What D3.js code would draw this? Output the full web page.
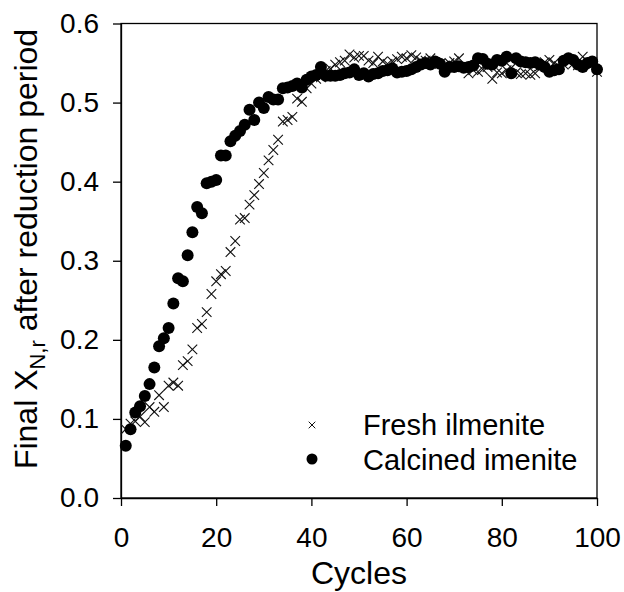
<!DOCTYPE html>
<html><head><meta charset="utf-8">
<script src="https://cdn.jsdelivr.net/npm/d3@7"></script>
<style>
body{margin:0;background:#fff;}
text{font-family:"Liberation Sans",Arial,Helvetica,sans-serif;fill:#000;}
</style></head>
<body><svg id="c" width="624" height="592"></svg>
<script>
const cycles = d3.range(1, 101);
const freshIlmenite = [0.087,0.094,0.097,0.103,0.096,0.115,0.109,0.130,0.115,0.142,
0.146,0.142,0.168,0.173,0.188,0.215,0.220,0.235,0.258,0.274,
0.283,0.287,0.311,0.325,0.352,0.354,0.371,0.383,0.397,0.411,
0.427,0.440,0.453,0.476,0.478,0.482,0.505,0.501,0.518,0.524,
0.530,0.532,0.540,0.543,0.548,0.551,0.553,0.561,0.557,0.559,
0.559,0.553,0.550,0.558,0.552,0.549,0.552,0.555,0.558,0.556,
0.560,0.557,0.553,0.553,0.556,0.551,0.549,0.547,0.550,0.552,
0.556,0.545,0.537,0.541,0.539,0.542,0.545,0.530,0.538,0.537,
0.541,0.544,0.538,0.536,0.537,0.535,0.537,0.546,0.551,0.554,
0.550,0.546,0.548,0.552,0.549,0.547,0.558,0.552,0.548,0.539];
const calcinedIlmenite = [0.066,0.087,0.108,0.116,0.129,0.144,0.165,0.192,0.202,0.215,
0.246,0.278,0.274,0.307,0.336,0.368,0.360,0.398,0.400,0.402,
0.433,0.433,0.451,0.458,0.464,0.472,0.491,0.478,0.500,0.493,
0.507,0.504,0.504,0.518,0.519,0.521,0.524,0.519,0.529,0.533,
0.535,0.545,0.534,0.534,0.534,0.535,0.537,0.538,0.542,0.535,
0.537,0.533,0.536,0.537,0.540,0.541,0.543,0.538,0.539,0.540,
0.542,0.545,0.548,0.550,0.548,0.552,0.549,0.539,0.545,0.545,
0.546,0.544,0.545,0.547,0.556,0.555,0.549,0.548,0.554,0.553,
0.558,0.537,0.556,0.552,0.551,0.550,0.551,0.548,0.545,0.539,
0.541,0.542,0.553,0.556,0.554,0.548,0.545,0.550,0.552,0.542];
const xTicks = [0,20,40,60,80,100];
const yTicks = [0.0,0.1,0.2,0.3,0.4,0.5,0.6];
const legendLabels = ["Fresh ilmenite","Calcined imenite"];

const svg = d3.select("#c");
const L = 121, R = 597, T = 23.5, B = 498;
const x = d3.scaleLinear().domain([0,100]).range([L,R]);
const y = d3.scaleLinear().domain([0,0.6]).range([B,T]);

// frame
svg.append("rect").attr("x",L).attr("y",T).attr("width",R-L).attr("height",B-T)
  .attr("fill","none").attr("stroke","#000").attr("stroke-width",1.3);

const xa = svg.append("g").attr("transform",`translate(0,${B})`)
  .call(d3.axisBottom(x).tickValues(xTicks).tickFormat(d3.format("d")).tickSize(8).tickSizeOuter(0).tickPadding(21));
const ya = svg.append("g").attr("transform",`translate(${L},0)`)
  .call(d3.axisLeft(y).tickValues(yTicks).tickFormat(d3.format(".1f")).tickSize(8).tickSizeOuter(0).tickPadding(14));
[xa,ya].forEach(g=>{
  g.select(".domain").attr("stroke","#000").attr("stroke-width",1.3);
  g.selectAll(".tick line").attr("stroke","#000").attr("stroke-width",1.3);
  g.selectAll(".tick text").attr("font-size",28).attr("font-family","Liberation Sans, Arial, sans-serif").attr("fill","#000");
});

// data
const crossPath = s => `M${-s},${-s}L${s},${s}M${-s},${s}L${s},${-s}`;
svg.append("g").selectAll("path").data(cycles).join("path")
  .attr("transform",(c,i)=>`translate(${x(c)},${y(freshIlmenite[i])})`)
  .attr("d",crossPath(4.8)).attr("stroke","#111").attr("stroke-width",1.1).attr("fill","none");
svg.append("g").selectAll("circle").data(cycles).join("circle")
  .attr("cx",c=>x(c)).attr("cy",(c,i)=>y(calcinedIlmenite[i])).attr("r",6).attr("fill","#000");

// legend
const lg = svg.append("g");
lg.append("path").attr("transform","translate(312,425)").attr("d",crossPath(3.3))
  .attr("stroke","#111").attr("stroke-width",1).attr("fill","none");
lg.append("circle").attr("cx",312).attr("cy",459).attr("r",5.5).attr("fill","#000");
lg.append("text").attr("x",363).attr("y",435).attr("font-size",29).text(legendLabels[0]);
lg.append("text").attr("x",363).attr("y",470).attr("font-size",29).text(legendLabels[1]);

// axis titles
svg.append("text").attr("x",(L+R)/2).attr("y",584).attr("text-anchor","middle").attr("font-size",32).text("Cycles");
const yt = svg.append("text").attr("transform","translate(37,249) rotate(-90)").attr("text-anchor","middle").attr("font-size",32);
yt.append("tspan").text("Final X");
yt.append("tspan").attr("font-size",22).attr("dy",8).text("N,r");
yt.append("tspan").attr("dy",-8).text(" after reduction period");
</script></body></html>
